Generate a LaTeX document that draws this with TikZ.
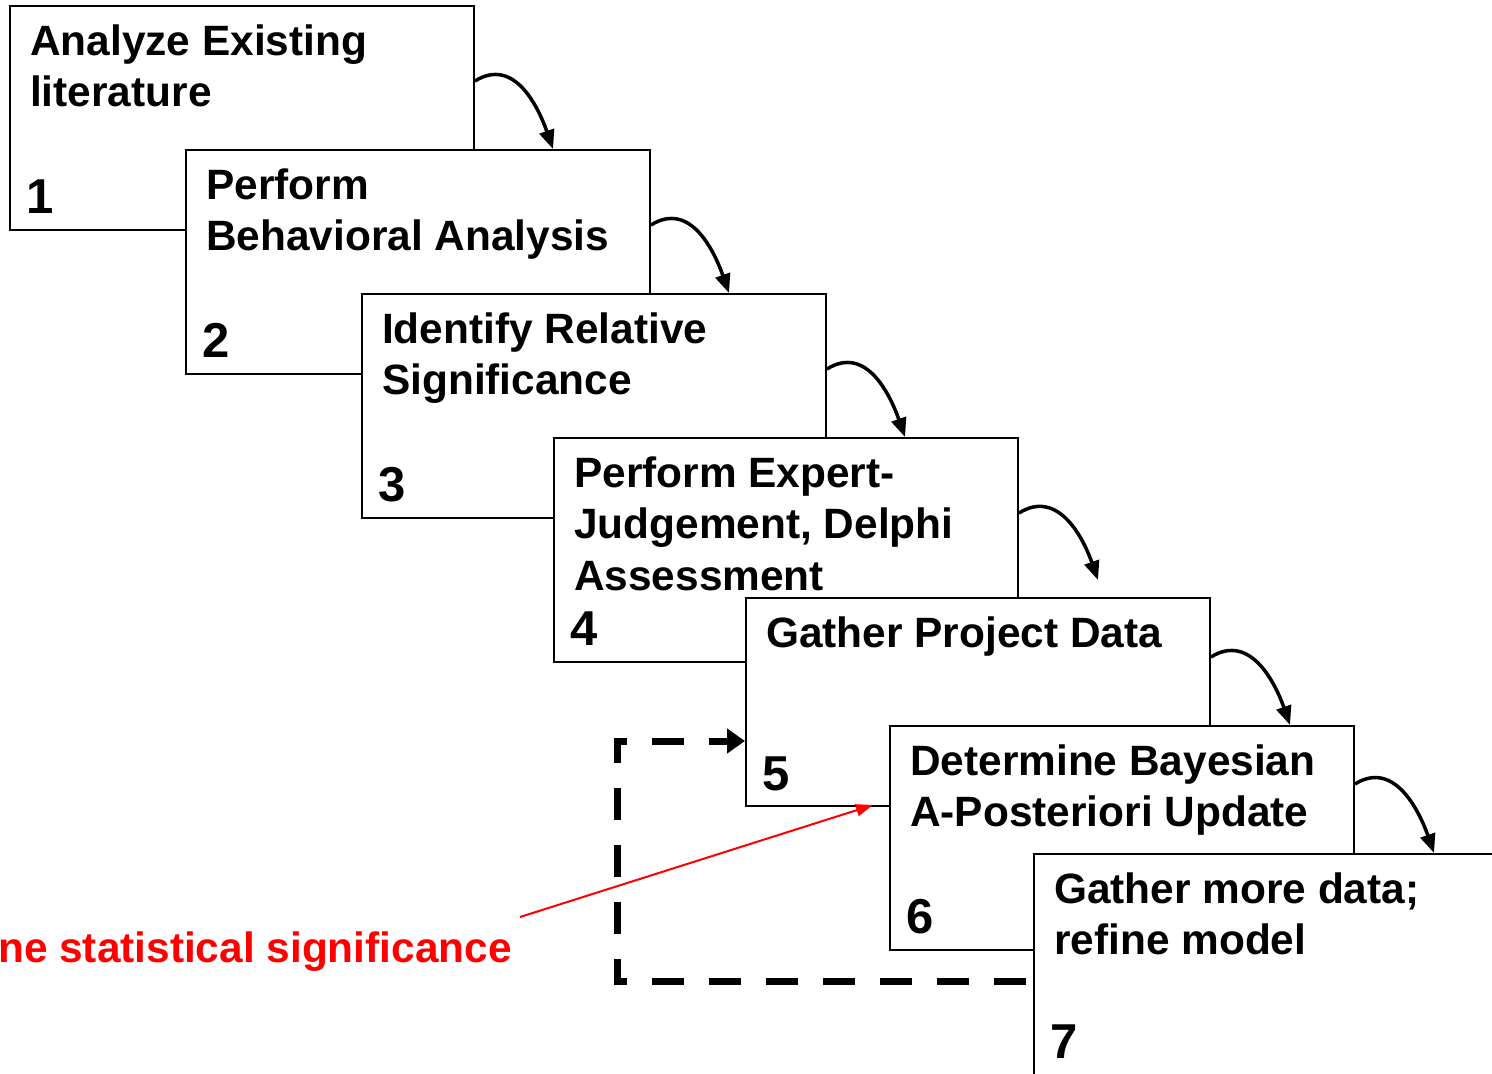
\documentclass[tikz,border=0pt]{standalone}
\usepackage{fontspec}
\setmainfont{Liberation Sans}
\usetikzlibrary{arrows.meta,calc}
\tikzset{
  stepbox/.style={draw=black, fill=white, line width=2pt, inner sep=0pt, anchor=north west,
    minimum width=464pt, minimum height=224pt},
  title/.style={anchor=north west, inner sep=0pt, align=left,
    font=\fontsize{42.4}{51.5}\selectfont\bfseries},
  num/.style={anchor=base west, inner sep=0pt, font=\fontsize{49}{55}\selectfont\bfseries},
  flow/.style={line width=3.5pt, -{Triangle[length=19pt,width=15pt]}},
  loopline/.style={line width=7pt, line join=miter, dash pattern=on 32pt off 25pt, dash phase=50pt,
    -{Triangle[length=18pt,width=24pt]}},
  note/.style={anchor=base east, inner sep=0pt, text=red, font=\fontsize{42.4}{51.5}\selectfont\bfseries},
  notearrow/.style={red, line width=2pt, -{Triangle[length=17pt,width=12pt]}}
}
\begin{document}
\begin{tikzpicture}[x=1pt,y=-1pt]
\useasboundingbox (0,0) rectangle (1492,1074);
\clip (0,0) rectangle (1492,1074);

% box 1
\node[stepbox] (b1) at (9,5) {};
\node[title] (t1) at (30,18.95) {\strut Analyze Existing\\literature};
\node[num] (n1) at (26,213) {1};
% box 2
\node[stepbox] (b2) at (185,149) {};
\node[title] (t2) at (206,162.95) {\strut Perform\\Behavioral Analysis};
\node[num] (n2) at (202,357) {2};
% box 3
\node[stepbox] (b3) at (361,293) {};
\node[title] (t3) at (382,306.95) {\strut Identify Relative\\Significance};
\node[num] (n3) at (378,501) {3};
% box 4
\node[stepbox] (b4) at (553,437) {};
\node[title] (t4) at (574,450.95) {\strut Perform Expert-\\Judgement, Delphi\\Assessment};
\node[num] (n4) at (570,645) {4};
% box 5
\node[stepbox, minimum height=208pt] (b5) at (745,597) {};
\node[title] (t5) at (766,610.95) {\strut Gather Project Data};
\node[num] (n5) at (762,790) {5};
% box 6
\node[stepbox] (b6) at (889,725) {};
\node[title] (t6) at (910,738.95) {\strut Determine Bayesian\\A-Posteriori Update};
\node[num] (n6) at (906,933) {6};
% box 7
\node[stepbox, minimum width=500pt] (b7) at (1033,853) {};
\node[title] (t7) at (1054,866.95) {\strut Gather more data;\\refine model};
\node[num] (n7) at (1050,1058) {7};

% curved arrows
\coordinate (e1) at (553,149);
\coordinate (e2) at (729,293);
\coordinate (e3) at (905,437);
\coordinate (e4) at (1098,580);
\coordinate (e5) at (1290,725);
\coordinate (e6) at (1434,853);
\draw[flow] ([yshift=-76pt]b1.north east) .. controls +(40,-25) and +(-14,-40) .. (e1);
\draw[flow] ([yshift=-76pt]b2.north east) .. controls +(40,-25) and +(-14,-40) .. (e2);
\draw[flow] ([yshift=-76pt]b3.north east) .. controls +(40,-25) and +(-14,-40) .. (e3);
\draw[flow] ([yshift=-76pt]b4.north east) .. controls +(40,-25) and +(-14,-40) .. (e4);
\draw[flow] ([yshift=-60pt]b5.north east) .. controls +(40,-25) and +(-14,-40) .. (e5);
\draw[flow] ([yshift=-59pt]b6.north east) .. controls +(40,-25) and +(-14,-40) .. (e6);

% dashed feedback loop
\coordinate (lc1) at (617,981);
\coordinate (lc2) at (617,741);
\draw[loopline] ([yshift=-128pt]b7.north west) -- (lc1) -- (lc2) -- ([yshift=-144pt]b5.north west);

% red annotation
\node[note] (lbl) at (512,962) {ne statistical significance};
\coordinate (rs) at (520,917);
\coordinate (rt) at (873,805);
\draw[notearrow] (rs) -- (rt);
\end{tikzpicture}
\end{document}
